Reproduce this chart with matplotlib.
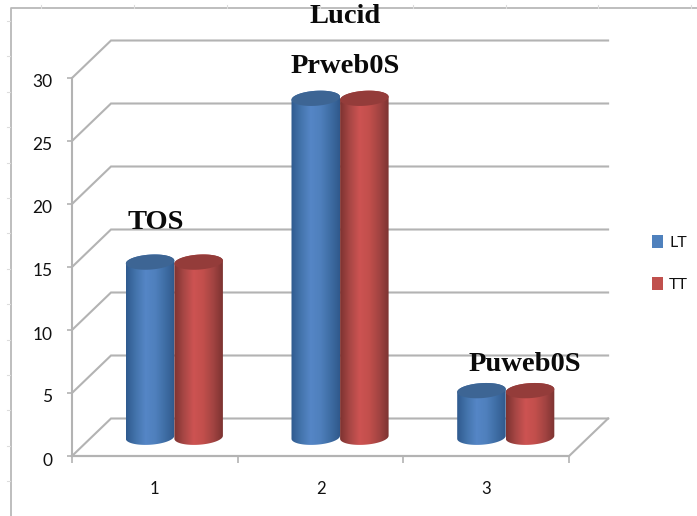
import numpy as np
import matplotlib
matplotlib.use("Agg")
import matplotlib.pyplot as plt
from matplotlib.patches import PathPatch, Polygon, Rectangle
from matplotlib.path import Path
from matplotlib.colors import LinearSegmentedColormap
from matplotlib.transforms import ScaledTranslation

categories = [1, 2, 3]
series_names = ["LT", "TT"]
lt_values = [13.9, 26.9, 3.7]
tt_values = [13.9, 26.9, 3.7]
yticks = [0, 5, 10, 15, 20, 25, 30]
data_labels = ["TOS", "Prweb0S", "Puweb0S"]
title = "Lucid"

W, H = 697, 516
PX_X = 165.7   # px per category
PX_Y = 12.6    # px per value unit
x0_px, y0_px = 72, 456
GRID = "#b3b3b3"

def xd(px):
    return 0.5 + (px - x0_px) / PX_X

def yd(py):
    return (y0_px - py) / PX_Y

fig = plt.figure(figsize=(W / 100, H / 100), dpi=100, facecolor="white")
ax = fig.add_axes([0, 0, 1, 1])
ax.set_facecolor("none")
xlim = (xd(0), xd(W))
ylim = (yd(H), yd(0))
ax.set_xlim(xlim)
ax.set_ylim(ylim)

depth_x = 39 / PX_X
depth_y = 37.5 / PX_Y
x_left, x_right = 0.5, 3.5

# outer chart frame, cut off by the picture, with its faint ruler marks
ax.plot([xd(11), xd(11), xd(W)], [yd(H), yd(8.5), yd(8.5)], color="#b9b9b9", lw=1.3, zorder=1)
for px in np.arange(41, W, 92.9):
    ax.plot([xd(px), xd(px)], [yd(5.5), yd(8)], color="#dddddd", lw=0.8, zorder=1)
for py in np.arange(21, H, 35.4):
    ax.plot([xd(7), xd(10)], [yd(py), yd(py)], color="#dddddd", lw=0.8, zorder=1)

# gridlines on the side and back walls
for v in yticks:
    ax.plot([x_left, x_left + depth_x, x_right + depth_x],
            [v, v + depth_y, v + depth_y], color=GRID, lw=1.5, zorder=1, solid_joinstyle="miter")
ax.plot([x_left, x_right, x_right + depth_x], [0, 0, depth_y], color=GRID, lw=1.5, zorder=1)

# axes
for s in ("top", "right"):
    ax.spines[s].set_visible(False)
ax.spines["left"].set_position(("data", x_left))
ax.spines["left"].set_bounds(0, 30)
ax.spines["bottom"].set_position(("data", 0))
ax.spines["bottom"].set_bounds(x_left, x_right)
for s in ("left", "bottom"):
    ax.spines[s].set_color(GRID)
    ax.spines[s].set_linewidth(1.5)
plt.rcParams["font.family"] = ["Lato", "DejaVu Sans"]
ax.set_yticks(yticks)
ax.set_xticks(categories)
ax.set_xticks([0.5, 1.5, 2.5, 3.5], minor=True)
ax.tick_params(axis="y", length=3.5, width=1.2, color=GRID, labelsize=12.5, pad=10.5, labelcolor="#111111")
ax.tick_params(axis="x", which="major", length=0, labelsize=12, pad=18, labelcolor="#111111")
ax.tick_params(axis="x", which="minor", length=5, width=1.2, color=GRID)
down = ScaledTranslation(0, -3 / 100, fig.dpi_scale_trans)
for lab in ax.get_yticklabels():
    lab.set_family(["Lato", "DejaVu Sans"])
    lab.set_transform(lab.get_transform() + down)
for lab in ax.get_xticklabels():
    lab.set_family(["Lato", "DejaVu Sans"])

blue_cmap = LinearSegmentedColormap.from_list("b", ["#2f5a8e", "#4474ac", "#5586c6", "#4f80bd", "#3f6ea5", "#30598c"])
red_cmap = LinearSegmentedColormap.from_list("r", ["#7d3331", "#a84745", "#cd5352", "#c24f4c", "#a34442", "#7c3331"])
blue_top = "#3d6594"
red_top = "#943c3a"
grad = np.linspace(0, 1, 128).reshape(1, -1)

bar_w = 48.5 / PX_X
offset = 24.3 / PX_X
ell_b = 7.5 / PX_Y    # half height of an end ellipse
ell_s = 1.5 / PX_Y    # tilt of an end ellipse at its right edge
floor_y = depth_y / 2

def ring(xc, yc, start, stop, n=60):
    t = np.linspace(start, stop, n)
    return np.column_stack([xc + bar_w / 2 * np.cos(t),
                            yc + ell_b * np.sin(t) + ell_s * np.cos(t)])

def cylinder(xc, v, cmap, top_color, z):
    top = floor_y + v
    lower = ring(xc, floor_y, np.pi, 2 * np.pi)      # front of the base
    upper = ring(xc, top, 0, np.pi)                  # back of the top
    body = np.vstack([lower, upper])
    clip = PathPatch(Path(np.vstack([body, body[0]]), closed=True),
                     transform=ax.transData, fc="none", ec="none")
    ax.add_patch(clip)
    im = ax.imshow(grad, extent=(xc - bar_w / 2, xc + bar_w / 2,
                                 floor_y - ell_b - ell_s, top + ell_b + ell_s),
                   cmap=cmap, aspect="auto", zorder=z, interpolation="bilinear")
    im.set_clip_path(clip)
    ax.add_patch(Polygon(ring(xc, top, 0, 2 * np.pi), closed=True, fc=top_color, ec="none", zorder=z + 0.1))

for i, cat in enumerate(categories):
    center = cat + depth_x / 2
    cylinder(center - offset, lt_values[i], blue_cmap, blue_top, 3)
    cylinder(center + offset, tt_values[i], red_cmap, red_top, 3.5)

ax.set_xlim(xlim)
ax.set_ylim(ylim)

# data labels and title
label_pos = [(xd(156), yd(229)), (xd(345), yd(73)), (xd(525), yd(371))]
for name, (lx, ly) in zip(data_labels, label_pos):
    ax.text(lx, ly, name, family="Liberation Serif", weight="bold", fontsize=20.5,
            ha="center", va="baseline", color="#0a0a0a", zorder=6)
ax.text(xd(345), yd(23.5), title, family="Liberation Serif", weight="bold", fontsize=20.5,
        ha="center", va="baseline", color="#0a0a0a", zorder=6)

# legend
handles = [Rectangle((0, 0), 1, 1, fc="#4f81bd"), Rectangle((0, 0), 1, 1, fc="#c0504d")]
leg = ax.legend(handles, series_names, frameon=False, loc="center left",
                bbox_to_anchor=((653 - 5.5) / W, 1 - 263.5 / H), bbox_transform=fig.transFigure,
                fontsize=11.5, handlelength=0.65, handleheight=0.9, handletextpad=0.4,
                labelspacing=1.7, borderpad=0.3, borderaxespad=0)
for t in leg.get_texts():
    t.set_color("#111111")
    t.set_family(["Lato", "DejaVu Sans"])

fig.savefig("out.png", dpi=100)
